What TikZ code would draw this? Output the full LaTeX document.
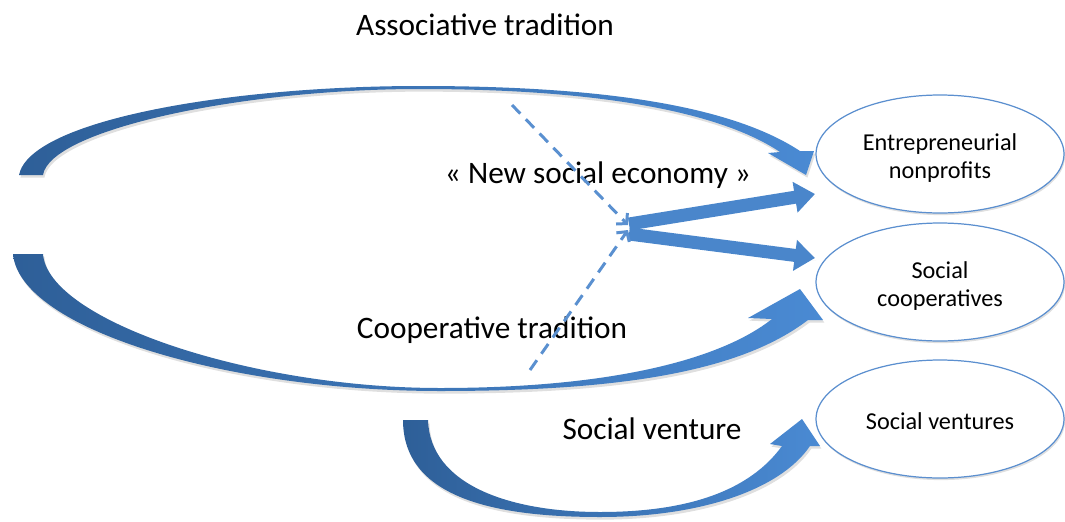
\documentclass[tikz,border=0pt]{standalone}
\usepackage{fontspec}
\setmainfont{Carlito}
\usetikzlibrary{arrows.meta,shapes.geometric,shadows}
\definecolor{bandA}{HTML}{2E5F98}
\definecolor{bandB}{HTML}{4A8AD3}
\definecolor{edgeblue}{HTML}{5B8FCF}
\definecolor{arrowblue}{HTML}{4A86CB}
\definecolor{dashblue}{HTML}{5A90D0}
\newcommand{\lowtext}[1]{\raisebox{-2.6pt}[\height][\depth]{\begin{tabular}{@{}c@{}}#1\end{tabular}}}
\begin{document}
\begin{tikzpicture}[x=0.02cm,y=-0.02cm,
  biglabel/.style={font=\fontsize{17.8}{21}\selectfont, inner sep=0pt},
  target/.style={ellipse, draw=edgeblue, line width=0.7pt, fill=white,
    minimum width=4.96cm, minimum height=2.36cm, inner sep=0pt,
    align=center, font=\fontsize{13.8}{16.2}\selectfont,
    drop shadow={shadow xshift=0.6pt, shadow yshift=-1.2pt, opacity=0.25}},
  band/.style={left color=bandA, right color=bandB, draw=none,
    drop shadow={shadow xshift=0.8pt, shadow yshift=-1.5pt, opacity=0.25}},
  fatarrow/.style={line width=7.4pt, arrowblue, -{Triangle[width=17pt,length=11.5pt]},
    drop shadow={shadow xshift=0.8pt, shadow yshift=-1.5pt, opacity=0.25}},
  dasharrow/.style={line width=1.7pt, dashblue, dash pattern=on 6.8pt off 4.5pt,
    -{Straight Barb[length=4pt,width=9pt]}}
]
\useasboundingbox (0,0) rectangle (1065,521);

% labels
\node[biglabel] (assoc) at (485,25) {Associative tradition};
\node[biglabel] (nse) at (598,175) {« New social economy »};
\node[biglabel] (coop) at (492,330) {Cooperative tradition};
\node[biglabel] (sv) at (652,429) {Social venture};

% associative tradition band (curved down arrow)
\path[band]
  (19,175) .. controls (30,120) and (230,86) .. (420,86)
  .. controls (600,86) and (730,105) .. (800,151)
  -- (814,151) -- (806,175) -- (768,153) -- (780,152)
  .. controls (720,112) and (600,89) .. (420,89)
  .. controls (240,89) and (50,130) .. (43,175) -- cycle;

% cooperative tradition band (curved up arrow)
\path[band]
  (13,254) .. controls (20,330) and (230,391) .. (440,391)
  .. controls (620,391) and (740,372) .. (808,320)
  -- (823,320) -- (800,289) -- (748,318) -- (772,319)
  .. controls (720,360) and (610,388) .. (440,388)
  .. controls (250,388) and (48,320) .. (43,254) -- cycle;

% social venture band
\path[band]
  (403,420) .. controls (403,500) and (500,517) .. (600,517)
  .. controls (700,517) and (780,490) .. (810,446)
  -- (820,446) -- (802,419) -- (770,444) -- (782,446)
  .. controls (750,490) and (690,512) .. (600,512)
  .. controls (510,512) and (430,485) .. (428,420) -- cycle;

% target ellipses
\node[target] (ent) at (940,154) {\lowtext{Entrepreneurial\\nonprofits}};
\node[target] (scoop) at (940,282) {\lowtext{Social\\cooperatives}};
\node[target] (svent) at (940,419) {\lowtext{Social ventures}};

% straight arrows
\coordinate (j1) at (629,224);
\coordinate (j2) at (629,234);
\coordinate (t1) at (815,194);
\coordinate (t2) at (815,258);
\draw[fatarrow] (j1) -- (t1);
\draw[fatarrow] (j2) -- (t2);

% dashed arrows
\coordinate (d1) at (512,105);
\coordinate (d2) at (530,370);
\coordinate (m1) at (628,225);
\coordinate (m2) at (628,230);
\draw[dasharrow] (d1) -- (m1);
\draw[dasharrow] (d2) -- (m2);
\end{tikzpicture}
\end{document}
